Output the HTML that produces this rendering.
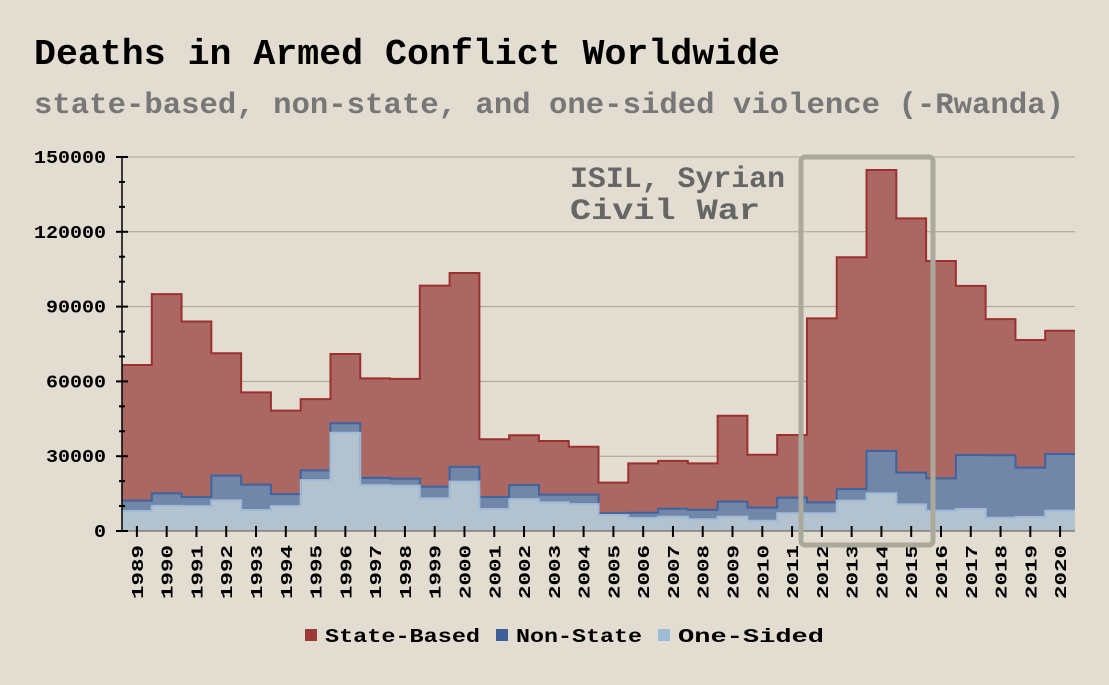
<!DOCTYPE html>
<html><head><meta charset="utf-8"><style>
html,body{margin:0;padding:0;background:#e2ddd0;}
svg{display:block;font-family:"Liberation Mono",monospace;font-weight:bold;}
</style></head><body>
<svg id="chart" width="1109" height="685" viewBox="0 0 1109 685">
<rect width="1109" height="685" fill="#e2ddd0"/>
<text x="34" y="64" font-size="36" fill="#000" textLength="746" lengthAdjust="spacingAndGlyphs">Deaths in Armed Conflict Worldwide</text>
<text x="34" y="113" font-size="30" fill="#777" textLength="1030" lengthAdjust="spacingAndGlyphs">state-based, non-state, and one-sided violence (-Rwanda)</text>
<g id="grid"></g>
<g id="areas"></g>
<g id="axes"></g>
<text x="570" y="187" font-size="30" fill="#666" textLength="215" lengthAdjust="spacingAndGlyphs">ISIL, Syrian</text>
<text x="570" y="219" font-size="30" fill="#666" textLength="190" lengthAdjust="spacingAndGlyphs">Civil War</text>
<rect x="801" y="157" width="132" height="388" rx="4" fill="none" stroke="#aba89c" stroke-width="5"/>
<g id="legend"></g>
</svg>
<script>
const years = [1989,1990,1991,1992,1993,1994,1995,1996,1997,1998,1999,2000,2001,2002,2003,2004,2005,2006,2007,2008,2009,2010,2011,2012,2013,2014,2015,2016,2017,2018,2019,2020];
const oneSided = [8000,10100,10000,12300,8400,10000,20400,39400,18400,18200,13100,19800,8800,12800,11500,10800,6400,5200,5700,4700,5700,4100,7100,7100,12200,15100,10700,8100,8800,5300,5600,8100];
const nonState = [4200,5000,3600,9900,10200,4800,3900,3800,2900,2800,4700,5900,4800,5600,3100,3800,700,2100,3200,3800,6100,5300,6300,4400,4600,17000,12700,13000,21700,25100,19800,22800];
const stateBased = [54400,79900,70400,49100,37000,33500,28600,27800,39900,40000,80600,77800,23200,20000,21500,19200,12300,19800,19200,18600,34400,21200,25100,73800,93000,112700,102000,87200,67800,54600,51200,49400];
const yTicks = [0,30000,60000,90000,120000,150000];

const NS = "http://www.w3.org/2000/svg";
const X0 = 122, X1 = 1075, Y0 = 531, Y1 = 157, YMAX = 150000;
const step = (X1 - X0) / years.length;
const xs = i => X0 + step * i;
const ys = v => Y0 - (v / YMAX) * (Y0 - Y1);
function mk(tag, attrs, parent) {
  const e = document.createElementNS(NS, tag);
  for (const k in attrs) e.setAttribute(k, attrs[k]);
  parent.appendChild(e); return e;
}
const grid = document.getElementById('grid');
const areas = document.getElementById('areas');
const axes = document.getElementById('axes');
const legend = document.getElementById('legend');

yTicks.forEach(v => {
  if (v > 0) {
    const l = mk('line', {x1: X0, x2: X1, y1: ys(v), y2: ys(v), stroke: '#a5a295', 'stroke-width': 1}, grid);
    
    
  }
  const s = String(v);
  const t = mk('text', {x: 106, y: ys(v) + 6, 'text-anchor': 'end', 'font-size': 18, fill: '#000', textLength: s.length * 12, lengthAdjust: 'spacingAndGlyphs'}, axes);
  t.textContent = s;
  
  
});

const c1 = oneSided.slice();
const c2 = oneSided.map((v, i) => v + nonState[i]);
const c3 = c2.map((v, i) => v + stateBased[i]);
function stepTop(arr) {
  let d = '';
  arr.forEach((v, i) => { d += (i ? 'L' : 'M') + xs(i) + ',' + ys(v) + 'L' + xs(i + 1) + ',' + ys(v); });
  return d;
}
function stepBottomRev(arr) {
  let d = '';
  for (let i = arr.length - 1; i >= 0; i--) d += 'L' + xs(i + 1) + ',' + ys(arr[i]) + 'L' + xs(i) + ',' + ys(arr[i]);
  return d;
}
const zeros = years.map(() => 0);
const layers = [
  {top: c3, bot: c2, fill: '#ab6762', stroke: '#9b3030', name: 'state-based-area'},
  {top: c2, bot: c1, fill: '#7286a8', stroke: '#3d63a0', name: 'non-state-area'},
  {top: c1, bot: zeros, fill: '#b2c3cf', stroke: '#9fbbd8', name: 'one-sided-area'}
];
layers.forEach(L => {
  const p = mk('path', {d: stepTop(L.top) + stepBottomRev(L.bot) + 'Z', fill: L.fill, stroke: 'none'}, areas);
  
  
});
layers.forEach(L => {
  const p = mk('path', {d: stepTop(L.top), fill: 'none', stroke: L.stroke, 'stroke-width': 2}, areas);
  
  
});

mk('line', {x1: X0, x2: X0, y1: Y1, y2: Y0, stroke: '#000', 'stroke-width': 1.5}, axes);
mk('line', {x1: X0, x2: X1, y1: Y0, y2: Y0, stroke: '#555', 'stroke-width': 1}, axes);
for (let v = 0; v <= YMAX; v += 10000) {
  const major = v % 30000 === 0;
  mk('line', {x1: major ? X0 - 6 : X0 - 3, x2: major ? X0 + 6 : X0 + 3, y1: ys(v), y2: ys(v), stroke: '#000', 'stroke-width': 2}, axes);
}
years.forEach((yr, i) => {
  const cx = xs(i) + step / 2;
  mk('line', {x1: cx, x2: cx, y1: Y0 - 5, y2: Y0 + 6, stroke: '#000', 'stroke-width': 2}, axes);
  const t = mk('text', {x: 0, y: 0, 'font-size': 17, fill: '#000', 'text-anchor': 'end', transform: 'translate(' + (cx + 6) + ',545) rotate(-90)', textLength: 54, lengthAdjust: 'spacingAndGlyphs'}, axes);
  t.textContent = yr;
  
  
});

const legendItems = [
  {label: 'State-Based', color: '#9b3a38', x: 305, w: 155},
  {label: 'Non-State', color: '#3d5f96', x: 496, w: 126},
  {label: 'One-Sided', color: '#9fbbd8', x: 658, w: 146}
];
legendItems.forEach(it => {
  const r = mk('rect', {x: it.x, y: 629, width: 12, height: 12, fill: it.color}, legend);
  
  
  const t = mk('text', {x: it.x + 20, y: 642, 'font-size': 19, fill: '#000', textLength: it.w, lengthAdjust: 'spacingAndGlyphs'}, legend);
  t.textContent = it.label;
  
  
});
</script>
</body></html>
